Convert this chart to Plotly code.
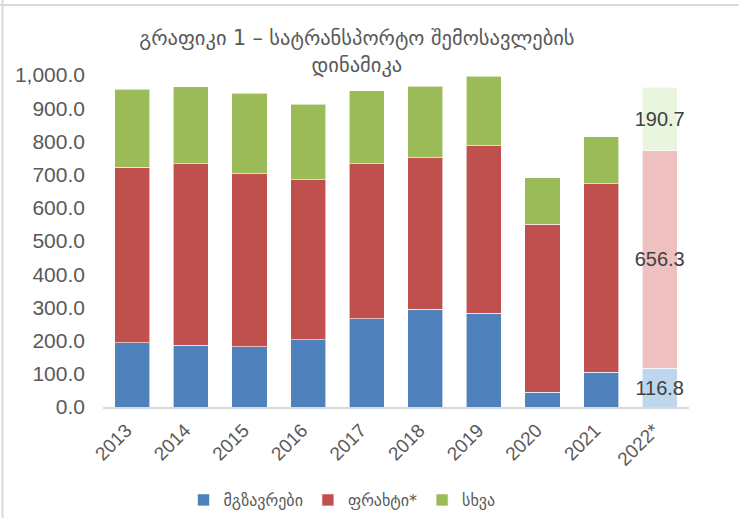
import plotly.graph_objects as go

years = ["2013", "2014", "2015", "2016", "2017", "2018", "2019", "2020", "2021", "2022*"]
passengers = [194, 186, 181, 203, 266, 294, 282, 44, 105, 116.8]
freight = [528, 547, 522, 481, 467, 457, 505, 506, 568, 656.3]
other = [235, 231, 242, 228, 219, 215, 210, 140, 141, 190.7]

names = ["მგზავრები", "ფრახტი*", "სხვა"]
main_colors = ["#4F81BD", "#C0504D", "#9BBB59"]
light_colors = ["#BDD7EE", "#EEC0C0", "#EAF5DF"]

W, H = 739, 518
L, R, T, B = 103, 50, 75, 111
pw, ph = W - L - R, H - T - B

def px(x):
    return (x - L) / pw

def py(y):
    return (H - B - y) / ph

fig = go.Figure()
for vals, name, c, lc in zip([passengers, freight, other], names, main_colors, light_colors):
    colors = [c] * (len(years) - 1) + [lc]
    texts = [""] * (len(years) - 1) + [f"{vals[-1]:.1f}"]
    fig.add_trace(go.Bar(
        x=years, y=vals, name=name,
        marker=dict(color=colors, line=dict(color="rgba(255,255,255,0.6)", width=1)),
        text=texts, textposition="inside", insidetextanchor="middle",
        textangle=0, constraintext="none",
        textfont=dict(size=20, color="#404040", family="Liberation Sans, Arial"),
        cliponaxis=False,
    ))

fig.update_layout(
    barmode="stack", bargap=0.4,
    width=W, height=H,
    margin=dict(l=L, r=R, t=T, b=B, autoexpand=False),
    paper_bgcolor="white", plot_bgcolor="white",
    font=dict(family="Liberation Sans, Arial", color="#595959"),
    title=dict(
        text="გრაფიკი 1 – სატრანსპორტო შემოსავლების<br>დინამიკა" + "\u00a0" * 18,
        x=0.483, xanchor="center", y=1 - 45 / H, yanchor="middle",
        font=dict(size=20.5, color="#595959", family="DejaVu Sans"),
    ),
    xaxis=dict(
        showline=True, linecolor="#D9D9D9", linewidth=1.5,
        tickangle=-45, tickfont=dict(size=19, color="#595959"),
        showgrid=False, ticks="",
        ticklabelshift=-6, ticklabelstandoff=3,
    ),
    yaxis=dict(
        range=[0, 1000], dtick=100, tickformat=",.1f",
        showgrid=False, showline=False, zeroline=False,
        tickfont=dict(size=21, color="#595959"), ticks="",
        ticklabelstandoff=17,
    ),
    legend=dict(
        orientation="h", x=px(342), xanchor="center", y=py(500), yanchor="middle",
        font=dict(size=16, color="#595959", family="DejaVu Sans"),
        traceorder="normal",
    ),
    showlegend=True,
    shapes=[
        dict(type="line", xref="paper", yref="paper", x0=px(0), x1=px(W), y0=py(5), y1=py(5),
             line=dict(color="#D9D9D9", width=2)),
        dict(type="line", xref="paper", yref="paper", x0=px(2.5), x1=px(2.5), y0=py(0), y1=py(H),
             line=dict(color="#D9D9D9", width=2)),
    ],
)

fig.write_html("out.html", config={"displayModeBar": False},
               post_script="document.body.style.margin='0';")
